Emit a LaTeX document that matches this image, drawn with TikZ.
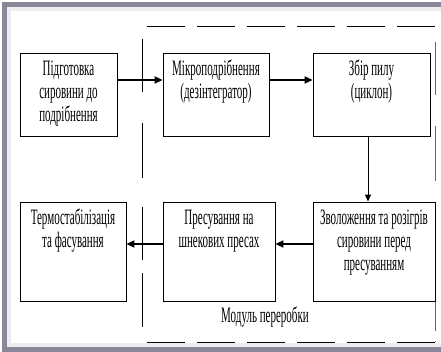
\documentclass[tikz,border=0pt]{standalone}
\usepackage{fontspec}
\usepackage{xcolor}
\usepackage{tikz}
\usetikzlibrary{arrows.meta}
\setmainfont[FakeStretch=0.5]{Liberation Serif}
\definecolor{framegray}{RGB}{138,135,152}
\newcommand{\stagetext}[3]{\parbox[t][#2][t]{#1}{\centering\strut #3}}

\begin{document}
\begin{tikzpicture}[x=1pt, y=-1pt,
        S node/.style={rectangle, draw, line width=0.9pt, inner xsep=0pt, inner ysep=6pt,
            font=\fontsize{22}{23}\selectfont},
        flow/.style={-{Triangle[length=8pt, width=7pt]}, line width=2pt},
        module/.style={line width=0.9pt, dash pattern=on 38pt off 12pt},
        side/.style={line width=0.9pt, dash pattern=on 53pt off 31pt on 55pt off 29pt on 53pt off 13pt on 55pt off 10pt}]

    \useasboundingbox[fill=white] (0,0) rectangle (441,352);

    % frame of the picture
    \draw[framegray!15, line width=4pt] (441,9) -- (9,9) -- (9,345) -- (441,345);
    \draw[framegray, line width=5pt] (441,4.5) -- (4.5,4.5) -- (4.5,349) -- (441,349);

    % module borders
    \draw[module] (147,26) -- (435,26);
    \draw[module] (147,342) -- (435,342);
    \draw[side] (142,39) -- (142,327);
    \draw[side, black!60] (435,42) -- (435,342);

    \node[S node] (1) at (68.5,94.5) {\stagetext{97pt}{71pt}{Підготовка\\ сировини до\\ подрібнення}};
    \node[S node] (2) at (216,94.5) {\stagetext{106pt}{71pt}{Мікроподрібнення\\ (дезінтегратор)}};
    \node[S node] (3) at (371.5,94.5) {\stagetext{117pt}{71pt}{Збір пилу\\ (циклон)}};
    \node[S node] (4) at (73,251.5) {\stagetext{106pt}{87pt}{Термостабілізація\\ та фасування}};
    \node[S node] (5) at (219,251.5) {\stagetext{112pt}{87pt}{Пресування на\\ шнекових пресах}};
    \node[S node] (6) at (374,251.5) {\stagetext{122pt}{87pt}{Зволоження та розігрів\\ сировини перед\\ пресуванням}};

    \node[font=\fontsize{22}{23}\selectfont] (m) at (265,317) {Модуль переробки};

    \draw[flow] (1.east |- 0,80) -- (2.west |- 0,80);
    \draw[flow] (2.east |- 0,80) -- (3.west |- 0,80);
    \draw[-{Triangle[length=7pt, width=6pt]}, line width=1pt] ([xshift=-3.5pt]3.south) -- ([xshift=-3.5pt]3.south |- 6.north);
    \draw[flow] (6.west |- 0,244) -- (5.east |- 0,244);
    \draw[flow] (5.west |- 0,244) -- (4.east |- 0,244);
\end{tikzpicture}
\end{document}
